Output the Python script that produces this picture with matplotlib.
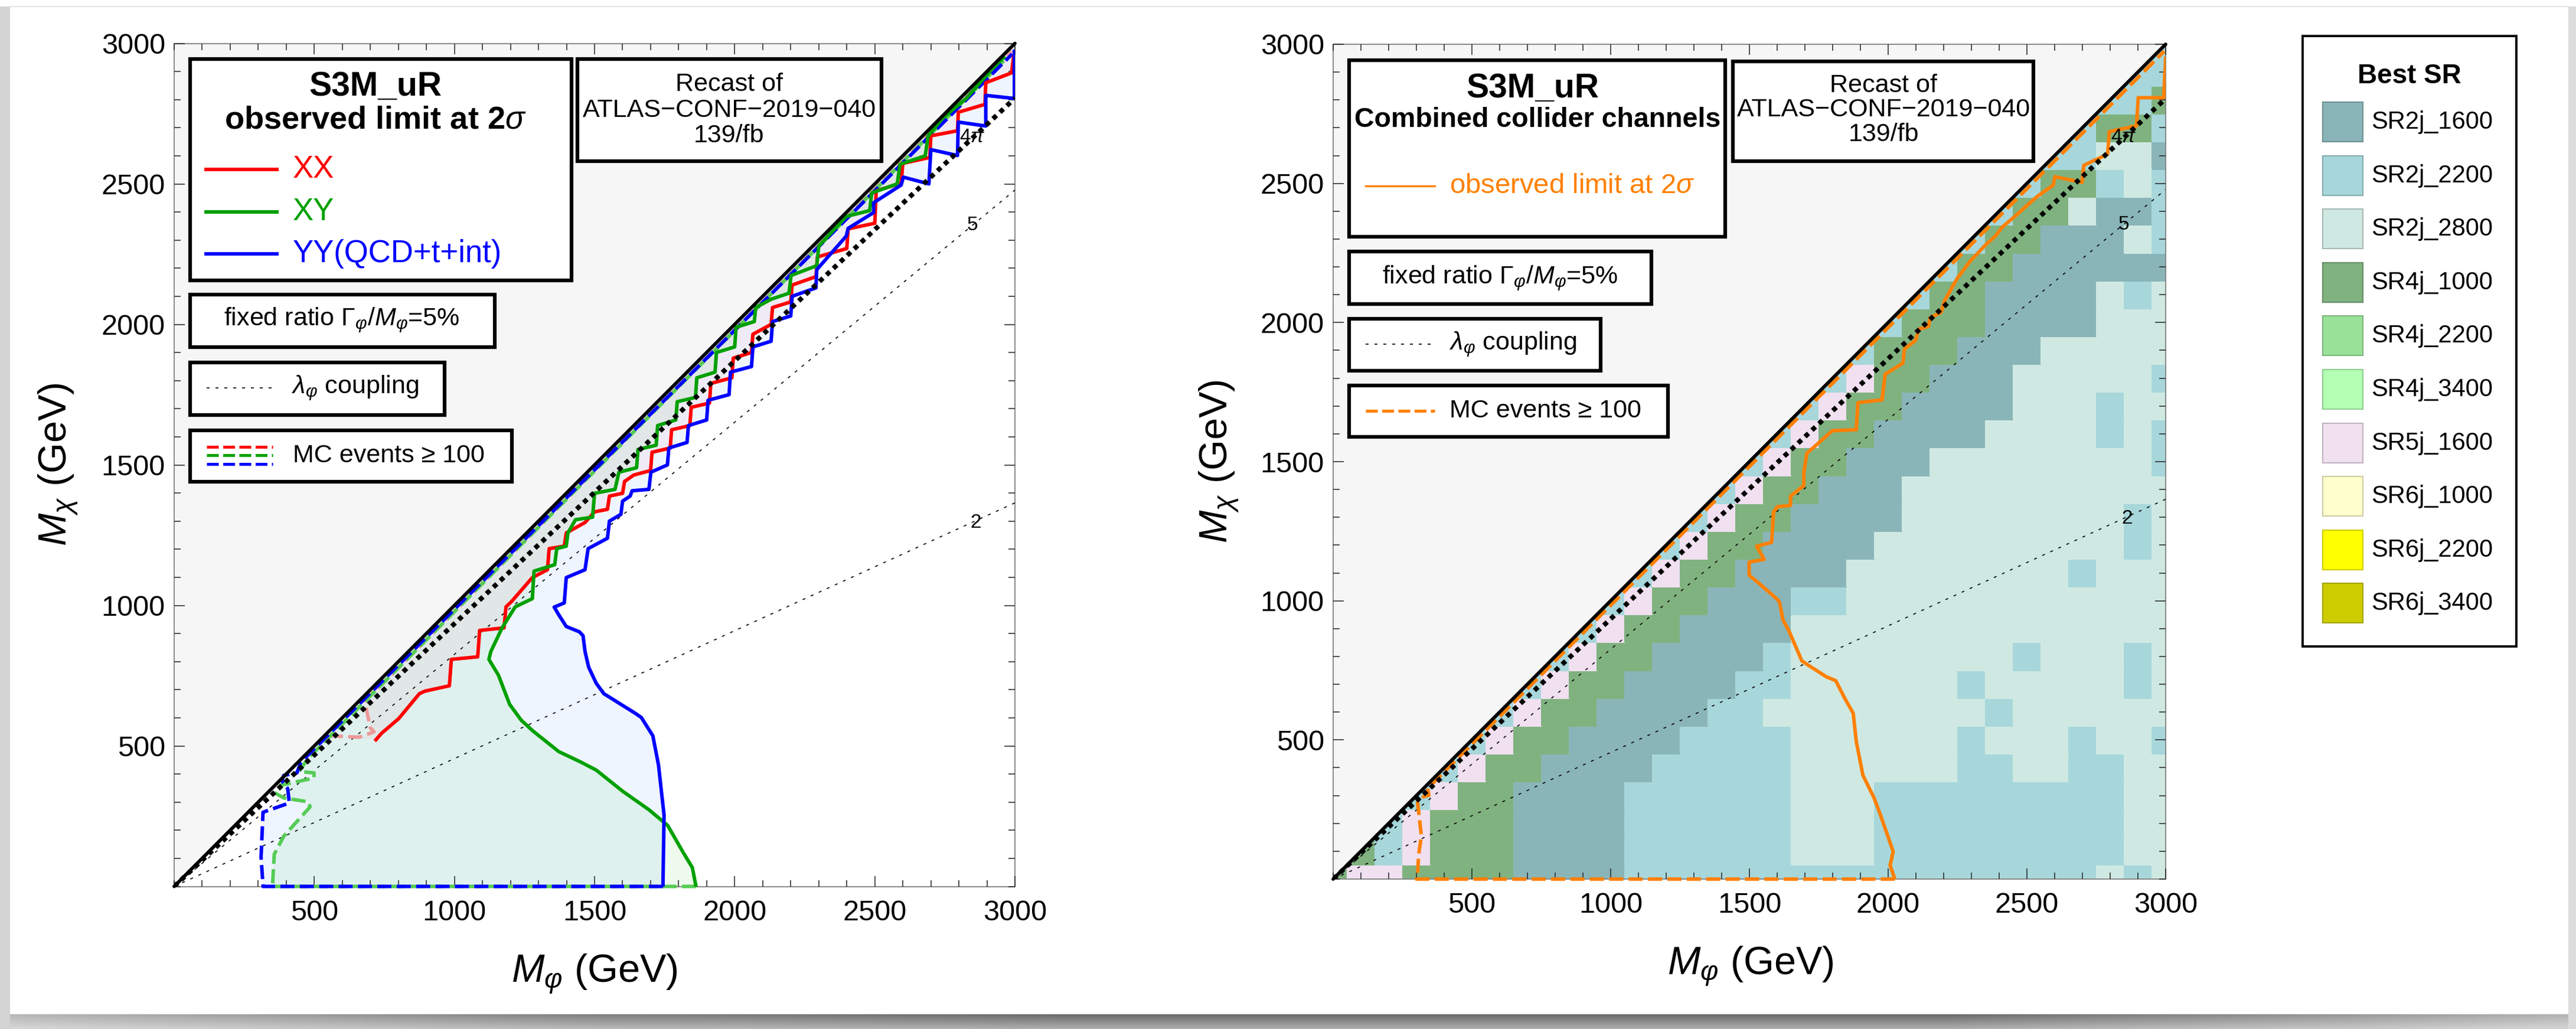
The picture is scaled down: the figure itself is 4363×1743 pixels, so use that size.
import numpy as np
import matplotlib
matplotlib.use("Agg")
import matplotlib.pyplot as plt
from matplotlib.patches import Rectangle, Polygon
from matplotlib.colors import ListedColormap
from matplotlib.ticker import MultipleLocator

plt.rcParams['font.family'] = ['Liberation Sans', 'DejaVu Sans']
plt.rcParams['mathtext.fontset'] = 'custom'
plt.rcParams['mathtext.rm'] = 'Liberation Sans'
plt.rcParams['mathtext.it'] = 'Liberation Sans:italic'
plt.rcParams['mathtext.bf'] = 'Liberation Sans:bold'

W, H = 4363, 1743

# ---------------- data ----------------
TICKS = [500, 1000, 1500, 2000, 2500, 3000]

# lambda coupling contours: M_chi reached at M_phi = 3000
LAMBDA_LABELS = [r'4$\pi$', '5', '2']
LAMBDA_END = [2805, 2478, 1365]
LAMBDA_LABEL_POS = [(2848, 2665), (2848, 2352), (2861, 1295)]

# left panel: observed 2 sigma limits
xx_mphi = [720, 740, 801, 875, 895, 982, 989, 1083, 1090, 1177, 1184, 1204, 1278, 1332, 1338,
           1392, 1399, 1466, 1500, 1546, 1553, 1600, 1607, 1640, 1700, 1705, 1770, 1775, 1840,
           1845, 1910, 1915, 1990, 1995, 2060, 2065, 2130, 2135, 2200, 2205, 2290, 2295, 2400,
           2405, 2500, 2505, 2594, 2600, 2696, 2700, 2795, 2798, 2893, 2896, 2988, 2995]
xx_mchi = [522, 545, 597, 686, 695, 714, 808, 817, 911, 920, 995, 1014, 1099, 1127, 1202,
           1211, 1258, 1295, 1333, 1342, 1389, 1399, 1441, 1464, 1480, 1545, 1560, 1625, 1640,
           1705, 1720, 1790, 1810, 1880, 1900, 1965, 2000, 2060, 2080, 2140, 2170, 2240, 2270,
           2340, 2360, 2475, 2503, 2573, 2594, 2671, 2689, 2755, 2783, 2860, 2895, 2951]

xy_mphi = [1862, 1849, 1815, 1761, 1694, 1600, 1506, 1452, 1372, 1278, 1238, 1197, 1157, 1123,
           1130, 1170, 1217, 1278, 1284, 1358, 1365, 1399, 1405, 1432, 1493, 1500, 1573, 1587,
           1650, 1655, 1720, 1725, 1790, 1795, 1860, 1865, 1930, 1935, 2000, 2005, 2070, 2075,
           2131, 2194, 2201, 2293, 2300, 2398, 2482, 2489, 2580, 2590, 2680, 2690, 2742, 2826,
           2918, 2960]
xy_mchi = [0, 67, 123, 217, 273, 339, 414, 442, 480, 555, 592, 648, 752, 808,
           836, 920, 995, 1024, 1122, 1145, 1202, 1211, 1258, 1305, 1314, 1399, 1413, 1474,
           1490, 1555, 1570, 1640, 1660, 1725, 1740, 1810, 1830, 1900, 1920, 1990, 2010, 2060,
           2090, 2111, 2174, 2209, 2279, 2384, 2405, 2468, 2500, 2570, 2600, 2670, 2734, 2804,
           2909, 2950]

yy_mphi = [1744, 1748, 1728, 1708, 1667, 1647, 1533, 1506, 1479, 1466, 1459, 1446, 1399, 1372,
           1356, 1392, 1399, 1466, 1477, 1546, 1553, 1594, 1600, 1627, 1634, 1694, 1701, 1760,
           1765, 1830, 1835, 1900, 1905, 1980, 1985, 2060, 2065, 2130, 2135, 2200, 2205, 2290,
           2293, 2398, 2405, 2496, 2496, 2594, 2602, 2693, 2700, 2795, 2798, 2896, 2896, 2998,
           2998]
yy_mchi = [0, 254, 433, 536, 601, 615, 686, 723, 780, 836, 892, 906, 925, 967,
           994, 1009, 1099, 1127, 1202, 1239, 1300, 1324, 1371, 1389, 1408, 1413, 1474, 1500,
           1560, 1580, 1640, 1660, 1730, 1750, 1830, 1850, 1920, 1940, 2010, 2030, 2100, 2130,
           2195, 2314, 2342, 2398, 2433, 2496, 2524, 2500, 2622, 2601, 2720, 2706, 2815, 2804,
           2972]

# left panel: MC events >= 100 boundaries
xx_mc_mphi = [552, 660, 713, 700, 680, 713, 740, 2990]
xx_mc_mchi = [536, 531, 550, 564, 658, 695, 718, 2972]
xy_mc_mphi = [1862, 351, 351, 357, 391, 485, 478, 391, 357, 380, 499, 499, 445, 480, 2960]
xy_mc_mchi = [0, 0, 3, 114, 179, 283, 301, 315, 334, 360, 386, 404, 409, 458, 2938]
yy_mc_mphi = [1744, 317, 317, 310, 317, 411, 405, 384, 391, 438, 452, 2990]
yy_mc_mchi = [0, 0, 3, 104, 264, 297, 348, 376, 395, 404, 442, 2962]

# right panel: combined observed limit and MC boundary
comb_mphi = [2024, 2007, 2018, 1972, 1949, 1909, 1885, 1874, 1845, 1811, 1777, 1710, 1689, 1642,
             1621, 1608, 1594, 1533, 1499, 1499, 1553, 1526, 1580, 1587, 1601, 1648, 1648, 1696,
             1696, 1707, 1741, 1799, 1885, 1891, 1978, 1989, 2053, 2059, 2099, 2110, 2145, 2151,
             2191, 2203, 2249, 2295, 2353, 2387, 2410, 2457, 2503, 2537, 2595, 2601, 2699, 2705,
             2791, 2797, 2895, 2901, 2993, 3000]
comb_mchi = [0, 49, 99, 231, 292, 373, 495, 596, 647, 713, 727, 770, 784, 893,
             931, 997, 1011, 1064, 1092, 1139, 1149, 1196, 1210, 1319, 1338, 1343, 1376, 1414,
             1461, 1530, 1560, 1611, 1615, 1712, 1722, 1814, 1854, 1905, 1936, 1976, 1986, 2017,
             2037, 2078, 2159, 2220, 2281, 2311, 2342, 2382, 2423, 2453, 2494, 2524, 2504, 2565,
             2605, 2686, 2707, 2808, 2808, 2950]
comb_mc_mphi = [2024, 300, 304, 308, 318, 304, 325, 345, 340, 2995]
comb_mc_mchi = [0, 0, 12, 88, 154, 277, 296, 301, 325, 2975]

# best signal region per 100 GeV cell; row j = M_chi/100, string starts at the diagonal cell
SR_NAMES = ['SR2j_1600', 'SR2j_2200', 'SR2j_2800', 'SR4j_1000', 'SR4j_2200',
            'SR4j_3400', 'SR5j_1600', 'SR6j_1000', 'SR6j_2200', 'SR6j_3400']
SR_COLORS = ['#8ab5b8', '#a7d7db', '#cfe9e2', '#80b280', '#9ae29a',
             '#b3ffb3', '#f0e0f0', '#ffffcc', '#ffff00', '#cccc00']
SR_CODES = {'a': 0, 'b': 1, 'c': 2, 'd': 3, 'p': 6}
best_sr_rows = [
    "dppddddaaaabbbbbbbbbbbbbbbbbcbc",
    "dbpdddaaaabbbbbbcccbbbbbbbbbcc",
    "bpdddaaaabbbbbbcccbbbbbbbbbcc",
    "bpddaaaabbbbbbcccbbbbbbbbbcc",
    "bpddaaaabbbbbccccccbbccbbcc",
    "bpddaaaabbbbccccccbcccbccb",
    "bpddaaaabbccccccccbcccccc",
    "bpddaaaabbccccccbcccccbc",
    "bpddaaaabccccccccbcccbc",
    "bpddaaaacccccccccccccc",
    "bpddaaabbcccccccccccc",
    "bpddaaaaccccccccbccc",
    "bpddaaaacccccccccbc",
    "bpddaaaaccccccccbc",
    "bpddaaacccccccccc",
    "bpddaaaccccccccb",
    "bpddaaaaccccbcb",
    "bpddaaaacccbcc",
    "bpddaaacccccb",
    "bdddaaaccccc",
    "bdddaaaaccc",
    "bddaaaacbc",
    "bddaaaaaa",
    "bddaaacb",
    "bddcaab",
    "bddbcb",
    "bbcca",
    "bddb",
    "bbd",
    "bb",
    "b",
]

# ---------------- figure ----------------
fig = plt.figure(figsize=(W / 100, H / 100), dpi=100)
fig.patch.set_facecolor('white')

LW = 4.3


def px_axes(x0, y0, x1, y1):
    return fig.add_axes([x0 / W, 1 - y1 / H, (x1 - x0) / W, (y1 - y0) / H])


def style_axes(ax):
    ax.set_xlim(0, 3000)
    ax.set_ylim(0, 3000)
    ax.set_xticks(TICKS)
    ax.set_yticks(TICKS)
    ax.set_xticklabels([str(t) for t in TICKS])
    ax.set_yticklabels([str(t) for t in TICKS])
    ax.xaxis.set_minor_locator(MultipleLocator(100))
    ax.yaxis.set_minor_locator(MultipleLocator(100))
    ax.tick_params(which='both', direction='in', top=True, right=True,
                   color='#222222', width=1.1)
    ax.tick_params(which='major', length=13, labelsize=35)
    ax.tick_params(which='minor', length=8)
    ax.tick_params(axis='x', pad=16)
    ax.tick_params(axis='y', pad=11)
    for sp in ax.spines.values():
        sp.set_color('#808080')
        sp.set_linewidth(1.3)
    ax.set_axisbelow(False)
    # forbidden region above the diagonal
    ax.fill([0, 0, 3000], [0, 3000, 3000], color='#f6f6f6', lw=0, zorder=0)
    # coupling contours
    for k, end in enumerate(LAMBDA_END):
        if k == 0:
            ax.plot([0, 3000], [0, end], color='black', lw=5.8,
                    ls=(0, (1, 1)), dash_capstyle='butt', zorder=7)
        else:
            ax.plot([0, 3000], [0, end], color='black', lw=1.2,
                    ls=(0, (3, 6)), zorder=3)
        lx, ly = LAMBDA_LABEL_POS[k]
        ax.text(lx, ly, LAMBDA_LABELS[k], fontsize=24, ha='center', va='center', zorder=9)
    ax.plot([0, 3000], [0, 3000], color='black', lw=4.2, zorder=8,
            solid_capstyle='round', clip_on=False)


ax1 = px_axes(295, 73.5, 1719, 1501.5)
ax2 = px_axes(2258, 75, 3668, 1489)
style_axes(ax1)
style_axes(ax2)

# ---------------- left panel ----------------
dash = (0, (4, 1.5))
blue_left = list(zip(yy_mc_mphi[1:-1], yy_mc_mchi[1:-1]))
green_left = list(zip(xy_mc_mphi[1:-1], xy_mc_mchi[1:-1]))
red_left = list(zip(xx_mc_mphi[:-1], xx_mc_mchi[:-1]))

poly = list(zip(yy_mphi, yy_mchi)) + [(3000, 3000), (452, 452)] + blue_left[::-1]
ax1.add_patch(Polygon(poly, closed=True, fc='#6aa5ff', alpha=0.1, lw=0, zorder=1))
poly = list(zip(xy_mphi, xy_mchi)) + [(2960, 2960), (499, 499)] + green_left[::-1]
ax1.add_patch(Polygon(poly, closed=True, fc='#00c000', alpha=0.065, lw=0, zorder=1))
poly = list(zip(xx_mphi, xx_mchi)) + [(2995, 2995), (740, 740)] + red_left[::-1]
ax1.add_patch(Polygon(poly, closed=True, fc='#ff4060', alpha=0.05, lw=0, zorder=1))

ax1.plot(xx_mc_mphi, xx_mc_mchi, color='#ee9999', lw=LW, ls=dash, zorder=4)
ax1.plot(xy_mc_mphi, xy_mc_mchi, color='#55cc55', lw=LW, ls=dash, zorder=4, clip_on=False)
ax1.plot(yy_mc_mphi, yy_mc_mchi, color='#0000ff', lw=LW, ls=dash, zorder=4, clip_on=False)

ax1.plot(xx_mphi, xx_mchi, color='#ff0000', lw=LW, zorder=6)
ax1.plot(xy_mphi, xy_mchi, color='#00a000', lw=LW, zorder=6)
ax1.plot(yy_mphi, yy_mchi, color='#0000ff', lw=LW, zorder=6)

# ---------------- right panel ----------------
grid = np.full((31, 31), np.nan)
for j, row in enumerate(best_sr_rows):
    for k, ch in enumerate(row):
        i = j + k
        if i <= 30 and ch in SR_CODES:
            grid[j, i] = SR_CODES[ch]
edges = np.arange(-50, 3100, 100)
mesh = ax2.pcolormesh(edges, edges, np.ma.masked_invalid(grid), cmap=ListedColormap(SR_COLORS),
                      vmin=-0.5, vmax=9.5, zorder=1, edgecolors='face', linewidth=0.3)
mesh.set_clip_path(Polygon([(0, 0), (3000, 0), (3000, 3000)], closed=True,
                           transform=ax2.transData))

ax2.plot(comb_mc_mphi, comb_mc_mchi, color='#ff8000', lw=LW, ls=dash, zorder=5, clip_on=False)
ax2.plot(comb_mphi, comb_mchi, color='#ff8000', lw=LW, zorder=6)

# ---------------- overlay: boxes, legends, labels ----------------
ov = fig.add_axes([0, 0, 1, 1], zorder=10)
ov.patch.set_visible(False)
ov.axis('off')


def box(x0, y0, x1, y1, lw=4.5):
    ov.add_patch(Rectangle((x0, y0), x1 - x0, y1 - y0, fc='white', ec='black', lw=lw,
                           joinstyle='miter', zorder=2))


TXT = dict(zorder=3)

# left panel boxes
box(322, 100, 968, 475)
ov.text(636, 147, 'S3M_uR', fontsize=41, fontweight='bold', ha='center', va='center', **TXT)
ov.text(636, 203, r'observed limit at 2$\sigma$', fontsize=39, fontweight='bold',
        ha='center', va='center', **TXT)
for y, col, lab in [(287, '#ff0000', 'XX'), (359, '#00a000', 'XY'),
                    (430, '#0000ff', 'YY(QCD+t+int)')]:
    ov.plot([349, 469], [y, y], color=col, lw=4.3, zorder=3)
    ov.text(496, y, lab, color=col, fontsize=38, ha='left', va='center', **TXT)

box(322, 499, 838, 588)
ov.text(579, 542, r'fixed ratio $\Gamma_\varphi/M_\varphi$=5%', fontsize=31,
        ha='center', va='center', **TXT)
box(322, 614, 753, 703)
ov.plot([350, 462], [657, 657], color='black', lw=1.2, ls=(0, (3, 6)), zorder=3)
ov.text(494, 657, r'$\lambda_\varphi$ coupling', fontsize=31, ha='left', va='center', **TXT)
box(322, 729, 867, 816)
for y, col in [(757, '#ff0000'), (771, '#00a000'), (786, '#0000ff')]:
    ov.plot([350, 462], [y, y], color=col, lw=3.6, ls=dash, zorder=3)
ov.text(496, 772, 'MC events \u2265 100', fontsize=31, ha='left', va='center', **TXT)

box(978, 100, 1493, 273)
for y, s in [(143, 'Recast of'), (187, 'ATLAS\u2212CONF\u22122019\u2212040'), (230, '139/fb')]:
    ov.text(1235, y, s, fontsize=31, ha='center', va='center', **TXT)

# right panel boxes
box(2285, 102, 2922, 401)
ov.text(2596, 150, 'S3M_uR', fontsize=41, fontweight='bold', ha='center', va='center', **TXT)
ov.text(2604, 203, 'Combined collider channels', fontsize=33.5, fontweight='bold',
        ha='center', va='center', **TXT)
ov.plot([2313, 2430], [315, 315], color='#ff8000', lw=2.4, zorder=3)
ov.text(2455, 315, r'observed limit at 2$\sigma$', color='#ff8000', fontsize=34,
        ha='left', va='center', **TXT)
box(2285, 426, 2797, 515)
ov.text(2541, 471, r'fixed ratio $\Gamma_\varphi/M_\varphi$=5%', fontsize=31,
        ha='center', va='center', **TXT)
box(2285, 540, 2711, 628)
ov.plot([2313, 2424], [583, 583], color='black', lw=1.2, ls=(0, (3, 6)), zorder=3)
ov.text(2455, 583, r'$\lambda_\varphi$ coupling', fontsize=31, ha='left', va='center', **TXT)
box(2285, 653, 2825, 740)
ov.plot([2313, 2430], [696, 696], color='#ff8000', lw=3.6, ls=dash, zorder=3)
ov.text(2455, 696, 'MC events \u2265 100', fontsize=31, ha='left', va='center', **TXT)

box(2935, 104, 3444, 273)
for y, s in [(145, 'Recast of'), (186, 'ATLAS\u2212CONF\u22122019\u2212040'), (228, '139/fb')]:
    ov.text(3190, y, s, fontsize=31, ha='center', va='center', **TXT)

# best SR legend
box(3900, 61, 4262, 1095, lw=2.8)
ov.text(4081, 129, 'Best SR', fontsize=33, fontweight='bold', ha='center', va='center', **TXT)
for k, (name, col) in enumerate(zip(SR_NAMES, SR_COLORS)):
    y0 = 173 + 90.6 * k
    rgb = np.array(matplotlib.colors.to_rgb(col)) * 0.8
    ov.add_patch(Rectangle((3934, y0), 68, 67, fc=col, ec=rgb, lw=1.5, zorder=3))
    ov.text(4016, y0 + 34, name, fontsize=30, ha='left', va='center', **TXT)

# axis labels
ov.text(1007, 1650, r'$M_\varphi$ (GeV)', fontsize=48, ha='center', va='center', **TXT)
ov.text(99, 787, r'$M_\chi$ (GeV)', fontsize=48, rotation=90, ha='center', va='center', **TXT)
ov.text(2965, 1637, r'$M_\varphi$ (GeV)', fontsize=48, ha='center', va='center', **TXT)
ov.text(2065, 782, r'$M_\chi$ (GeV)', fontsize=48, rotation=90, ha='center', va='center', **TXT)

# slide frame and drop shadow
xs = np.linspace(0, W, 400)
dark = np.interp(xs, [0, 60, 1000, 1800, 3300, 4000, 4363], [0.28, 0.3, 0.5, 0.58, 0.58, 0.4, 0.3])
fade = np.linspace(1.0, 0.55, 25)
ov.imshow(1 - np.outer(fade, dark), extent=[0, W, H, 1718], aspect='auto', cmap='gray',
          vmin=0, vmax=1, zorder=0)
ov.add_patch(Rectangle((0, 11), 17, H - 11, fc='#d4d4d4', lw=0, zorder=0))
ov.add_patch(Rectangle((4350, 11), 13, H - 11, fc='#dcdcdc', lw=0, zorder=0))
ov.plot([17, 4350], [11, 11], color='#e6e6e6', lw=1.5, zorder=0)

ov.set_xlim(0, W)
ov.set_ylim(H, 0)

fig.savefig('out.png', dpi=100, facecolor='white')
